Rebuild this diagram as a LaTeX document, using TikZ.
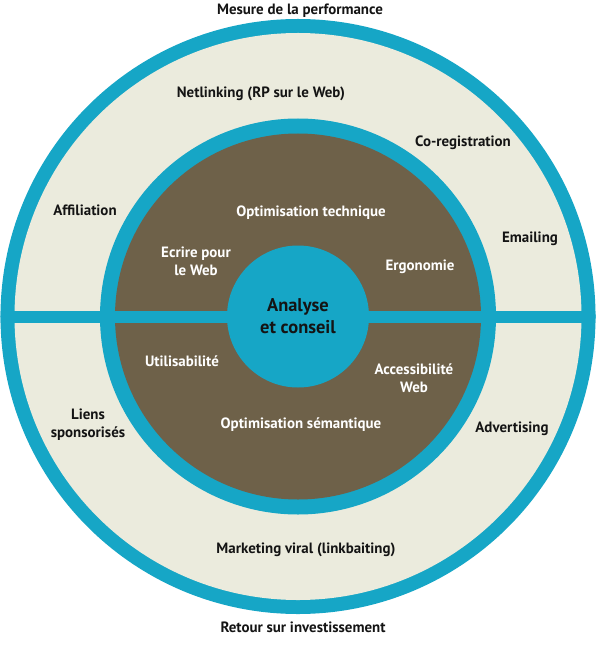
\documentclass[tikz,border=0pt]{standalone}
\usepackage{fontspec}
\setmainfont{PT Sans}
\definecolor{ringblue}{RGB}{22,166,198}
\definecolor{beigec}{RGB}{235,235,221}
\definecolor{brownc}{RGB}{110,97,73}
\definecolor{ink}{RGB}{20,20,20}
\begin{document}
\begin{tikzpicture}[x=1bp,y=-1bp,
  lbl/.style={font=\bfseries\fontsize{15}{18}\selectfont, align=center, text=ink, inner sep=0pt, yshift=-1.5bp},
  wlbl/.style={lbl, text=white},
  disk/.style={circle, inner sep=0pt, draw=none}]
\useasboundingbox (0,0) rectangle (596,649);
\coordinate (c) at (298,316.5);
\node[disk, fill=ringblue, minimum size=595bp] (outer) at (c) {};
\node[disk, fill=beigec, minimum size=567bp] (outerin) at (c) {};
\node[disk, fill=ringblue, minimum size=396bp] (inner) at (c) {};
\node[disk, fill=brownc, minimum size=366bp] (innerin) at (c) {};
\begin{scope}
  \clip (c) circle (297.5);
  \fill[ringblue] (0,311) rectangle (596,322.5);
\end{scope}
\node[disk, fill=ringblue, minimum size=142bp, font=\bfseries\fontsize{18.5}{22}\selectfont, text=ink, align=center] (core) at (c) {Analyse\\et conseil};

\node[lbl] (mesure) at (300,9) {Mesure de la performance};
\node[lbl] (retour) at (303,626) {Retour sur investissement};
\node[lbl] (netl) at (261,92) {Netlinking (RP sur le Web)};
\node[lbl] (coreg) at (463,141) {Co-registration};
\node[lbl] (affil) at (85,209) {Affiliation};
\node[lbl] (email) at (530,237) {Emailing};
\node[lbl] (liens) at (88,423) {Liens\\sponsorisés};
\node[lbl] (advert) at (512,427) {Advertising};
\node[lbl] (viral) at (306,548) {Marketing viral (linkbaiting)};

\node[wlbl] (opttech) at (311,211) {Optimisation technique};
\node[wlbl] (ecrire) at (196,260) {Ecrire pour\\le Web};
\node[wlbl] (ergo) at (420,265) {Ergonomie};
\node[wlbl] (util) at (182,360) {Utilisabilité};
\node[wlbl] (access) at (414,377) {Accessibilité\\Web};
\node[wlbl] (optsem) at (301,423) {Optimisation sémantique};
\end{tikzpicture}
\end{document}
